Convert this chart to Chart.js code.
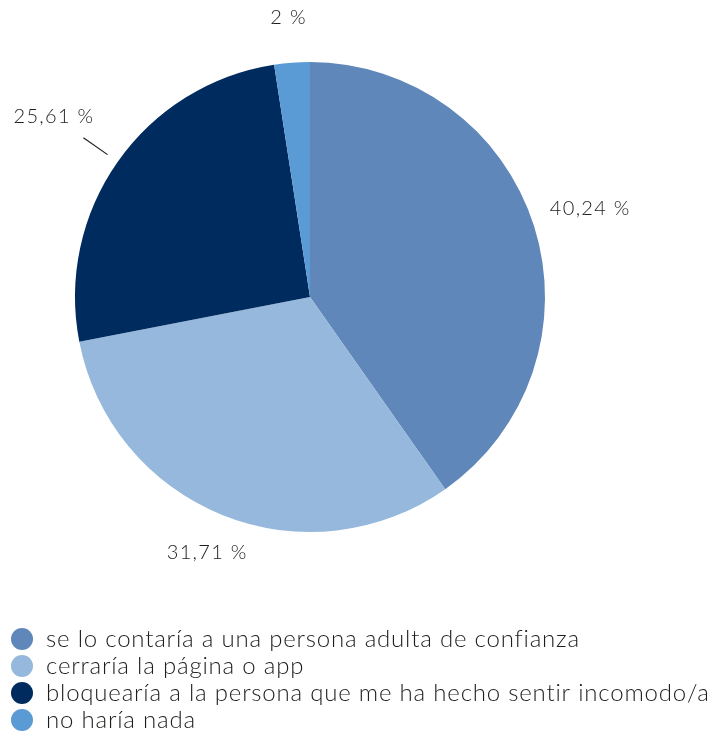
<!DOCTYPE html>
<html>
<head>
<meta charset="utf-8">
<script src="https://cdn.jsdelivr.net/npm/chart.js@4/dist/chart.umd.min.js"></script>
<style>
  html, body { margin: 0; padding: 0; background: #ffffff; overflow: hidden; }
  #wrap { position: relative; width: 726px; height: 742px; }
</style>
</head>
<body>
<div id="wrap"><canvas id="c"></canvas></div>
<script>
// Data
const categories = [
  'se lo contaría a una persona adulta de confianza',
  'cerraría la página o app',
  'bloquearía a la persona que me ha hecho sentir incomodo/a',
  'no haría nada'
];
const values = [40.24, 31.71, 25.61, 2.44];
const valueLabels = ['40,24 %', '31,71 %', '25,61 %', '2 %'];
const colors = ['#5F87B9', '#95B8DC', '#002B5F', '#5B9BD5'];

const FONT = 'Lato, "Open Sans", sans-serif';
const TEXT_COLOR = '#1d1d1b';

// place the pie area
const pieArea = {
  id: 'pieArea',
  afterLayout(chart) {
    chart.chartArea = { left: 0, top: 62, right: 620, bottom: 532, width: 620, height: 470 };
  }
};

// wider letter spacing for text (airy look)
const spacing = {
  id: 'spacing',
  beforeDraw(chart) { chart.ctx.letterSpacing = '0.8px'; },
  afterDraw(chart) { chart.ctx.letterSpacing = '0px'; }
};

// outside value labels
const outLabels = {
  id: 'outLabels',
  afterDatasetsDraw(chart, args, opts) {
    const ctx = chart.ctx;
    const meta = chart.getDatasetMeta(0);
    ctx.save();
    ctx.font = '300 20px ' + FONT;
    ctx.letterSpacing = '1.3px';
    ctx.fillStyle = TEXT_COLOR;
    ctx.textAlign = 'center';
    ctx.textBaseline = 'middle';
    meta.data.forEach((arc, i) => {
      const p = arc.getProps(['x', 'y', 'startAngle', 'endAngle', 'outerRadius'], true);
      const mid = (p.startAngle + p.endAngle) / 2;
      const cos = Math.cos(mid), sin = Math.sin(mid);
      const d = p.outerRadius + opts.offsets[i];
      ctx.fillText(valueLabels[i], p.x + cos * d, p.y + sin * d);
      const ln = opts.leaders[i];
      if (ln) {
        ctx.beginPath();
        ctx.strokeStyle = TEXT_COLOR;
        ctx.lineWidth = 1.2;
        ctx.moveTo(p.x + cos * (p.outerRadius + ln[0]), p.y + sin * (p.outerRadius + ln[0]));
        ctx.lineTo(p.x + cos * (p.outerRadius + ln[1]), p.y + sin * (p.outerRadius + ln[1]));
        ctx.stroke();
      }
    });
    ctx.restore();
  }
};

new Chart(document.getElementById('c'), {
  type: 'pie',
  data: {
    labels: categories,
    datasets: [{
      data: values,
      backgroundColor: colors,
      borderWidth: 0,
      radius: 235
    }]
  },
  options: {
    responsive: true,
    maintainAspectRatio: false,
    animation: false,
    layout: { padding: { left: 7, right: 0, top: 0, bottom: 0 } },
    plugins: {
      tooltip: { enabled: false },
      legend: {
        display: true,
        position: 'bottom',
        align: 'start',
        labels: {
          usePointStyle: true,
          pointStyle: 'circle',
          boxHeight: 15.6,
          padding: 3,
          color: TEXT_COLOR,
          font: { family: FONT, size: 24, weight: '300' }
        }
      },
      outLabels: {
        offsets: [59, 40, 78, 45],
        leaders: [null, null, [12.5, 42], null]
      }
    }
  },
  plugins: [pieArea, spacing, outLabels]
});
</script>
</body>
</html>
